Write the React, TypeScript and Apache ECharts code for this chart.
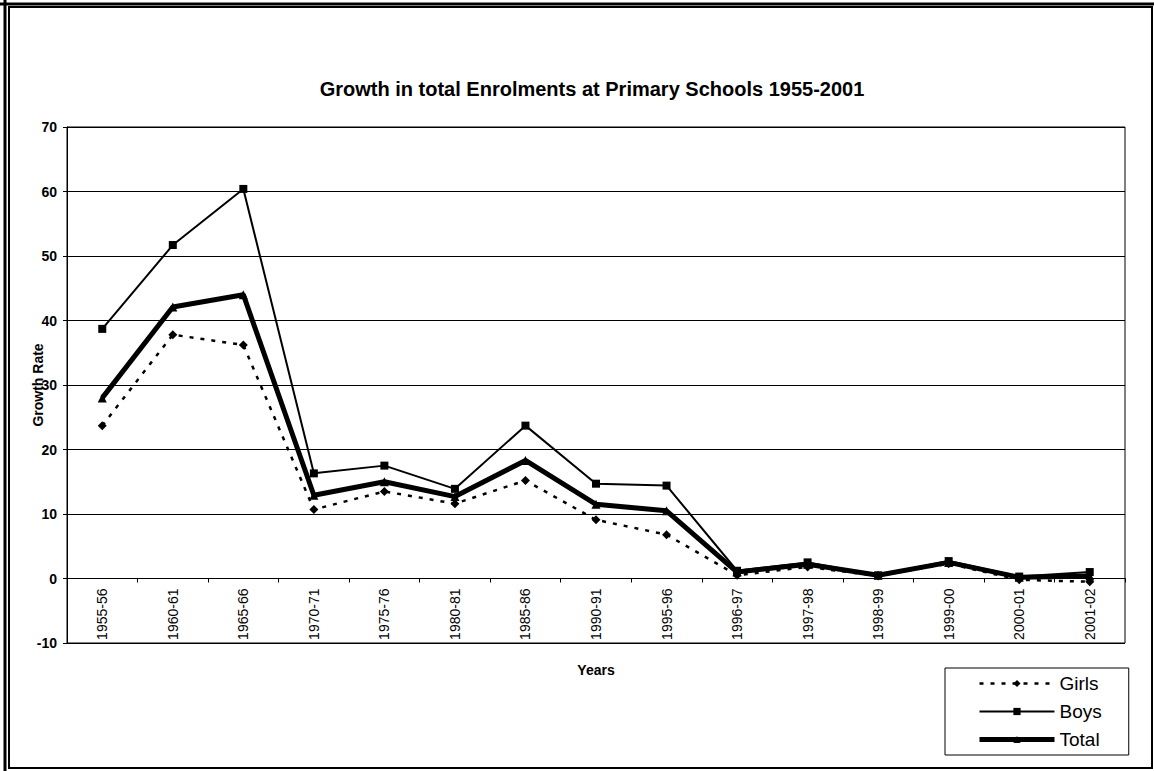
import React, { useEffect, useRef } from "react";
import * as echarts from "echarts";

const categories = ["1955-56","1960-61","1965-66","1970-71","1975-76","1980-81","1985-86","1990-91","1995-96","1996-97","1997-98","1998-99","1999-00","2000-01","2001-02"];
const girls = [23.7, 37.8, 36.2, 10.7, 13.5, 11.6, 15.2, 9.1, 6.8, 0.5, 1.8, 0.4, 2.3, -0.2, -0.5];
const boys = [38.7, 51.7, 60.4, 16.3, 17.5, 13.9, 23.7, 14.7, 14.4, 1.2, 2.5, 0.5, 2.7, 0.3, 1.0];
const total = [28.0, 42.1, 44.0, 12.9, 15.0, 12.7, 18.3, 11.5, 10.5, 1.0, 2.2, 0.5, 2.5, 0.2, 0.4];
const yTicks = { min: -10, max: 70, interval: 10 };

export default function App() {
  const ref = useRef<HTMLDivElement>(null);
  useEffect(() => {
    const chart = echarts.init(ref.current!, null, { renderer: "svg" });
    const font = "Arial, 'Liberation Sans', sans-serif";
    const W = 1154, H = 771;
    const grid = { left: 67, right: 29, top: 127, bottom: 128 };
    const gridH = H - grid.top - grid.bottom;
    // x axis sits at zero: shift it up from the grid bottom by the -10..0 span
    const zeroOffset = -gridH * (0 - yTicks.min) / (yTicks.max - yTicks.min);
    chart.setOption({
      animation: false,
      backgroundColor: "#fff",
      title: {
        text: "Growth in total Enrolments at Primary Schools 1955-2001",
        left: 587,
        top: 74,
        textAlign: "center",
        textStyle: { fontFamily: font, fontSize: 20, fontWeight: "bold", color: "#000" },
      },
      grid: { ...grid, show: true, borderColor: "#000", borderWidth: 1 },
      legend: {
        orient: "vertical",
        left: 945,
        top: 668,
        data: [
          { name: "Girls", lineStyle: { width: 2.5, type: [4, 7] } },
          { name: "Boys", lineStyle: { width: 2 } },
          { name: "Total", lineStyle: { width: 5 } },
        ],
        borderColor: "#000",
        borderWidth: 1,
        padding: [6, 27, 6, 32],
        itemWidth: 75,
        itemHeight: 9,
        itemGap: 9,
        textStyle: { fontFamily: font, fontSize: 19, color: "#000" },
      },
      xAxis: {
        type: "category",
        data: categories,
        boundaryGap: true,
        offset: zeroOffset,
        axisLine: { onZero: false, lineStyle: { color: "#000", width: 1 } },
        axisTick: { show: true, length: 4, lineStyle: { color: "#000" } },
        axisLabel: { rotate: 90, interval: 0, fontFamily: font, fontSize: 14, color: "#000", margin: 10 },
        name: "Years",
        nameLocation: "middle",
        nameGap: 84,
        nameMoveOverlap: false,
        nameTextStyle: { fontFamily: font, fontSize: 14, fontWeight: "bold", color: "#000" },
      },
      yAxis: {
        type: "value",
        min: yTicks.min,
        max: yTicks.max,
        interval: yTicks.interval,
        axisLine: { show: true, lineStyle: { color: "#000" } },
        axisTick: { show: true, length: 4, lineStyle: { color: "#000" } },
        axisLabel: { fontFamily: font, fontSize: 14, fontWeight: "bold", color: "#000", margin: 10 },
        splitLine: { show: true, lineStyle: { color: "#000", width: 1 } },
        name: "Growth Rate",
        nameLocation: "middle",
        nameGap: 22,
        nameMoveOverlap: false,
        nameTextStyle: { fontFamily: font, fontSize: 14, fontWeight: "bold", color: "#000" },
      },
      series: [
        {
          name: "Girls",
          type: "line",
          data: girls,
          symbol: "diamond",
          symbolSize: 9,
          itemStyle: { color: "#000" },
          lineStyle: { color: "#000", width: 2.5, type: [4, 7] },
          z: 2,
        },
        {
          name: "Boys",
          type: "line",
          data: boys,
          symbol: "rect",
          symbolSize: 8,
          itemStyle: { color: "#000" },
          lineStyle: { color: "#000", width: 2 },
          z: 3,
        },
        {
          name: "Total",
          type: "line",
          data: total,
          symbol: "triangle",
          symbolSize: 9,
          itemStyle: { color: "#000" },
          lineStyle: { color: "#000", width: 5 },
          z: 4,
        },
      ],
      graphic: [
        { type: "rect", shape: { x: 9, y: 7, width: W - 11, height: H - 10 }, style: { fill: "none", stroke: "#000", lineWidth: 2 }, silent: true },
        { type: "line", shape: { x1: 0, y1: 4, x2: W, y2: 4 }, style: { stroke: "#000", lineWidth: 3 }, silent: true },
        { type: "line", shape: { x1: 5, y1: 0, x2: 5, y2: H }, style: { stroke: "#000", lineWidth: 3 }, silent: true },
      ],
    });
    return () => chart.dispose();
  }, []);
  return <div ref={ref} style={{ position: "fixed", left: 0, top: 0, width: 1154, height: 771 }} />;
}
